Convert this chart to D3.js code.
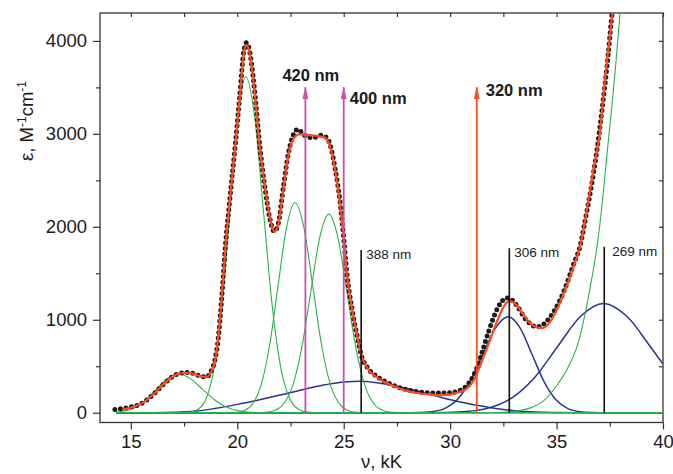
<!DOCTYPE html>
<html>
<head>
<meta charset="utf-8">
<script src="https://cdn.jsdelivr.net/npm/d3@7"></script>
<style>
  body { margin: 0; background: #fff; }
  text { font-family: "Liberation Sans", Arial, sans-serif; fill: #1a1a1a; }
</style>
</head>
<body>
<div id="chart"></div>
<script>
// spectre expérimental (points noirs), [nu kK, epsilon]
const expData = [
  [14.25, 35], [14.6, 45], [15.0, 62], [15.5, 100], [16.0, 185], [16.5, 300], [17.0, 395],
  [17.35, 428], [17.7, 432], [18.0, 418], [18.3, 392], [18.55, 385], [18.75, 440], [18.95, 570],
  [19.1, 790], [19.25, 1180], [19.45, 1820], [19.65, 2300], [19.9, 2870], [20.12, 3420],
  [20.3, 3880], [20.42, 3980], [20.55, 3920], [20.7, 3700], [20.85, 3380], [21.06, 2870],
  [21.3, 2420], [21.53, 2090], [21.73, 1950], [21.92, 2030], [22.16, 2420], [22.4, 2790],
  [22.65, 3000], [22.85, 3050], [23.05, 3010], [23.3, 2965], [23.6, 2960], [23.95, 2985],
  [24.2, 2960], [24.4, 2850], [24.6, 2620], [24.8, 2320], [25.0, 1880], [25.15, 1500],
  [25.38, 1130], [25.6, 860], [25.85, 600], [26.1, 490], [26.5, 400], [27.0, 330], [27.5, 280],
  [28.0, 245], [28.5, 225], [29.0, 215], [29.5, 212], [30.0, 215], [30.4, 235], [30.75, 285],
  [31.0, 360], [31.25, 480], [31.5, 650], [31.8, 870], [32.1, 1060], [32.4, 1190], [32.65, 1235],
  [32.9, 1215], [33.2, 1130], [33.5, 1020], [33.8, 950], [34.05, 925], [34.35, 945], [34.7, 1030],
  [35.0, 1140], [35.4, 1340], [35.8, 1600], [36.1, 1790], [36.33, 2055], [36.6, 2390],
  [36.88, 2800], [37.15, 3290], [37.43, 3865], [37.56, 4190], [37.7, 4450]
];

// somme ajustée (ligne rouge)
const fitData = [
  [14.6, 30], [15.0, 55], [15.5, 98], [16.0, 185], [16.5, 300], [17.0, 395], [17.35, 425],
  [17.7, 428], [18.0, 415], [18.3, 390], [18.55, 385], [18.77, 441], [18.96, 567], [19.09, 782],
  [19.25, 1180], [19.45, 1800], [19.65, 2290], [19.9, 2860], [20.12, 3400], [20.3, 3850],
  [20.42, 3955], [20.55, 3900], [20.7, 3680], [20.85, 3360], [21.06, 2860], [21.3, 2430],
  [21.53, 2108], [21.73, 1946], [21.92, 2018], [22.16, 2395], [22.39, 2753], [22.63, 2940],
  [22.9, 2995], [23.3, 2990], [23.7, 2980], [24.1, 2960], [24.3, 2900], [24.51, 2717],
  [24.74, 2395], [24.98, 1929], [25.14, 1520], [25.37, 1140], [25.61, 854], [25.84, 610],
  [26.08, 490], [26.5, 390], [27.0, 320], [27.5, 272], [28.0, 232], [28.5, 210], [29.0, 198],
  [29.5, 190], [30.0, 195], [30.4, 220], [30.78, 260], [31.09, 340], [31.4, 500], [31.72, 690],
  [32.03, 880], [32.34, 1060], [32.6, 1170], [32.8, 1200], [33.1, 1160], [33.4, 1070],
  [33.7, 980], [34.0, 925], [34.3, 910], [34.6, 950], [35.0, 1100], [35.4, 1320], [35.8, 1570],
  [36.1, 1785], [36.42, 2180], [36.73, 2610], [37.05, 3040], [37.27, 3577], [37.43, 3900],
  [37.62, 4295], [37.8, 4700]
];

// bandes gaussiennes vertes
const green1 = [[14.3, 6], [14.7, 18], [15.2, 56], [15.7, 135], [16.2, 252], [16.7, 367], [17.2, 416],
  [17.79, 367], [18.37, 252], [18.96, 135], [19.54, 56], [20.13, 18], [20.71, 5], [21.3, 1], [22, 0], [40, 0]];
const green2 = [[14.3, 0], [17.0, 0], [17.81, 8], [18.18, 40], [18.55, 159], [18.92, 489], [19.29, 1174],
  [19.66, 2193], [20.03, 3190], [20.4, 3615], [20.81, 3190], [21.22, 2193], [21.63, 1174], [22.04, 489],
  [22.45, 159], [22.86, 40], [23.27, 8], [24, 0], [40, 0]];
const green3 = [[14.3, 0], [19.2, 0], [19.95, 5], [20.34, 25], [20.735, 99], [21.13, 306], [21.525, 734],
  [21.92, 1372], [22.315, 1996], [22.71, 2262], [23.125, 1996], [23.54, 1372], [23.955, 734], [24.37, 306],
  [24.785, 99], [25.2, 25], [25.615, 5], [26.4, 0], [40, 0]];
const green4 = [[14.3, 0], [20.5, 0], [21.325, 5], [21.75, 24], [22.175, 94], [22.6, 289], [23.025, 694],
  [23.45, 1296], [23.875, 1886], [24.3, 2137], [24.725, 1886], [25.15, 1296], [25.575, 694], [26.0, 289],
  [26.425, 94], [26.85, 24], [27.275, 5], [28.1, 0], [40, 0]];
const green5 = [[14.3, 0], [31.5, 0], [32.5, 5], [33.2, 20], [33.8, 55], [34.4, 130], [35, 290], [35.5, 470],
  [36, 740], [36.5, 1250], [37, 1960], [37.4, 2850], [37.8, 3800], [38.2, 5000], [38.6, 6500], [39, 8200]];

// bandes bleues
const blue1 = [[14.3, 0], [16, 1], [17, 4], [18, 15], [19, 48], [20, 90], [21, 138], [22, 190], [23, 245],
  [24, 295], [25, 330], [25.8, 340], [26.5, 325], [27.5, 285], [28.5, 230], [29.5, 170], [30.5, 115],
  [31.25, 80], [32, 50], [33, 22], [34, 7], [35, 2], [36, 0], [40, 0]];
const blue2 = [[14.3, 0], [27.7, 0], [28.53, 2], [29.13, 11], [29.73, 45], [30.33, 140], [30.93, 335],
  [31.53, 626], [32.13, 911], [32.73, 1032], [33.29, 911], [33.85, 626], [34.41, 335], [34.97, 140],
  [35.53, 45], [36.09, 11], [36.65, 2], [37.5, 0], [40, 0]];
const blue3 = [[14.3, 0], [28.6, 0], [29.68, 3], [30.75, 13], [31.83, 52], [32.9, 159], [33.98, 382],
  [35.05, 713], [36.13, 1038], [37.2, 1176], [38.3, 1038], [39.4, 713], [40, 524]];

// flèches d'excitation (position, kK) et transitions calculées
const arrowNm = [420, 400, 320];
const arrowNu = [23.2, 25.0, 31.25];
const arrowTop = 3500;
const stickNm = [388, 306, 269];
const stickNu = [25.82, 32.78, 37.24];
const stickEps = [1750, 1770, 1785];

// graduations
const xTicks = [15, 20, 25, 30, 35, 40];
const xMinor = [17.5, 22.5, 27.5, 32.5, 37.5];
const yTicks = [0, 1000, 2000, 3000, 4000];
const yMinor = [500, 1500, 2500, 3500];

const width = 673, height = 474;
const plot = { left: 100, right: 663, top: 13, bottom: 422.5 };

const svg = d3.select("#chart").append("svg")
  .attr("width", width)
  .attr("height", height);

const x = d3.scaleLinear().domain([13.55, 40]).range([plot.left, plot.right]);
const y = d3.scaleLinear().domain([-105, 4300]).range([plot.bottom, plot.top]);

svg.append("defs").append("clipPath")
  .attr("id", "clip")
  .append("rect")
  .attr("x", plot.left).attr("y", plot.top)
  .attr("width", plot.right - plot.left).attr("height", plot.bottom - plot.top);

/*** axes ***/
function styleAxis(g) {
  g.select(".domain").remove();
  g.selectAll("line").attr("stroke", "#333").attr("stroke-width", 1.2);
  g.selectAll("text").style("font-size", "18.5px").attr("fill", "#1a1a1a")
    .style("font-family", "Liberation Sans, Arial, sans-serif");
}

svg.append("g").attr("transform", `translate(${plot.left},0)`)
  .call(d3.axisLeft(y).tickValues(yTicks).tickSize(7).tickPadding(6).tickFormat(d3.format("d")))
  .call(styleAxis);
svg.append("g").attr("transform", `translate(${plot.left},0)`)
  .call(d3.axisLeft(y).tickValues(yMinor).tickSize(4).tickFormat("")).call(styleAxis);
svg.append("g").attr("transform", `translate(0,${plot.bottom})`)
  .call(d3.axisBottom(x).tickValues(xTicks).tickSize(7).tickPadding(5).tickFormat(d3.format("d")))
  .call(styleAxis);
svg.append("g").attr("transform", `translate(0,${plot.bottom})`)
  .call(d3.axisBottom(x).tickValues(xMinor).tickSize(4).tickFormat("")).call(styleAxis);
svg.append("g").attr("transform", `translate(0,${plot.top})`)
  .call(d3.axisTop(x).tickValues(xTicks.concat(xMinor)).tickSize(-4).tickFormat("")).call(styleAxis);
svg.append("g").attr("transform", `translate(${plot.right},0)`)
  .call(d3.axisRight(y).tickValues(yTicks.concat(yMinor)).tickSize(-4).tickFormat("")).call(styleAxis);

// cadre
svg.append("rect")
  .attr("x", plot.left).attr("y", plot.top)
  .attr("width", plot.right - plot.left).attr("height", plot.bottom - plot.top)
  .attr("fill", "none").attr("stroke", "#333").attr("stroke-width", 1.3);

// titres des axes
svg.append("text")
  .attr("x", (plot.left + plot.right) / 2)
  .attr("y", 468)
  .attr("text-anchor", "middle")
  .style("font-size", "18.5px")
  .text("ν, kK");

const yLabel = svg.append("text")
  .attr("transform", "translate(33,121) rotate(-90)")
  .attr("text-anchor", "middle")
  .style("font-size", "18.5px");
yLabel.append("tspan").text("ε, M");
yLabel.append("tspan").attr("dy", -7).style("font-size", "12px").text("-1");
yLabel.append("tspan").attr("dy", 7).text("cm");
yLabel.append("tspan").attr("dy", -7).style("font-size", "12px").text("-1");

/*** courbes ***/
const line = d3.line()
  .x(d => x(d[0]))
  .y(d => y(d[1]))
  .curve(d3.curveMonotoneX);

const curves = svg.append("g").attr("clip-path", "url(#clip)");

[blue1, blue2, blue3].forEach(b => {
  curves.append("path").attr("d", line(b))
    .attr("fill", "none").attr("stroke", "#27338f").attr("stroke-width", 1.5);
});
[green1, green2, green3, green4, green5].forEach(b => {
  curves.append("path").attr("d", line(b))
    .attr("fill", "none").attr("stroke", "#27b24a").attr("stroke-width", 1.1);
});

// points expérimentaux
curves.append("path").attr("d", line(expData))
  .attr("fill", "none")
  .attr("stroke", "#1c1c1c")
  .attr("stroke-width", 5)
  .attr("stroke-linecap", "round")
  .attr("stroke-dasharray", "0 5.6");

// ajustement
curves.append("path").attr("d", line(fitData))
  .attr("fill", "none").attr("stroke", "#ff4a1e").attr("stroke-width", 2.2);

/*** transitions (traits noirs) ***/
const sticks = stickNm.map((nm, i) => ({ nu: stickNu[i], eps: stickEps[i], nm: nm }));
svg.selectAll("line.stick")
  .data(sticks)
  .join("line")
  .attr("class", "stick")
  .attr("x1", d => x(d.nu)).attr("x2", d => x(d.nu))
  .attr("y1", y(0)).attr("y2", d => y(d.eps))
  .attr("stroke", "#111").attr("stroke-width", 1.6);

svg.selectAll("text.stick")
  .data(sticks)
  .join("text")
  .attr("class", "stick")
  .attr("x", (d, i) => x(d.nu) + (i === 2 ? 8 : 5))
  .attr("y", d => y(d.eps) + 9)
  .style("font-size", "13.5px")
  .text(d => d.nm + " nm");

/*** flèches d'excitation ***/
const arrowColor = ["#cc4fae", "#cc4fae", "#f5501e"];
const defs = svg.select("defs");
arrowColor.forEach((c, i) => {
  defs.append("marker")
    .attr("id", "head" + i)
    .attr("viewBox", "0 0 13 6")
    .attr("refX", 12).attr("refY", 3)
    .attr("markerWidth", 13).attr("markerHeight", 6)
    .attr("markerUnits", "userSpaceOnUse")
    .attr("orient", "auto")
    .append("path").attr("d", "M0,0 L13,3 L0,6 Z").attr("fill", c);
});

const arrows = arrowNm.map((nm, i) => ({ nu: arrowNu[i], nm: nm, i: i }));
svg.selectAll("line.arrow")
  .data(arrows)
  .join("line")
  .attr("class", "arrow")
  .attr("x1", d => x(d.nu)).attr("x2", d => x(d.nu))
  .attr("y1", y(0)).attr("y2", y(arrowTop))
  .attr("stroke", d => arrowColor[d.i]).attr("stroke-width", 1.8)
  .attr("marker-end", d => `url(#head${d.i})`);

// placement des étiquettes par rapport à la pointe
const arrowLabelOffset = [[-23, -6], [6, 17], [9, 9]];
svg.selectAll("text.arrow")
  .data(arrows)
  .join("text")
  .attr("class", "arrow")
  .attr("x", d => x(d.nu) + arrowLabelOffset[d.i][0])
  .attr("y", d => y(arrowTop) + arrowLabelOffset[d.i][1])
  .style("font-size", "16.5px")
  .style("font-weight", "bold")
  .text(d => d.nm + " nm");
</script>
</body>
</html>
